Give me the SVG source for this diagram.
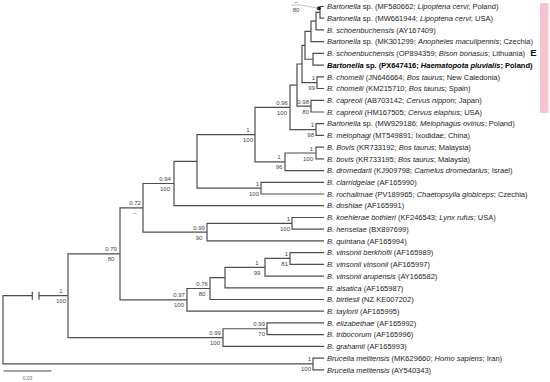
<svg xmlns="http://www.w3.org/2000/svg" width="550" height="382" viewBox="0 0 550 382">
<style>
text{font-family:"Liberation Sans",Arial,sans-serif}
.lf{font-size:7.5px;fill:#222}
.b{font-weight:bold;fill:#000}
.i{font-style:italic}
.sc{font-size:6px;fill:#444;text-anchor:middle}
.se{font-size:6px;fill:#444;text-anchor:end}
.ln{fill:none;stroke:#4d4d4d;stroke-width:1.2}
</style>
<rect x="540" y="3" width="8.5" height="110" fill="#f7c3cf"/>
<text x="533.5" y="55.5" font-size="9.5" font-weight="bold" text-anchor="middle" fill="#111">E</text>
<g id="connectors" class="ln">
<path d="M324 6.5H320V18.2H324"/>
<path d="M320 12.35H316V29.9H324"/>
<path d="M316 21.1H311V41.7H324"/>
<path d="M324 53.4H313V65.1H324"/>
<path d="M311 31.4H305V59.25H313"/>
<path d="M324 76.8H317V88.5H324"/>
<path d="M305 45.3H302V82.65H317"/>
<path d="M324 100.3H311V112H324"/>
<path d="M302 64H297V106.15H311"/>
<path d="M324 123.7H316V135.4H324"/>
<path d="M297 85.1H290V129.55H316"/>
<path d="M324 147.1H316V158.9H324"/>
<path d="M316 153H285V170.6H324"/>
<path d="M290 107.3H255V161.8H285"/>
<path d="M324 182.3H261V194H324"/>
<path d="M255 134.55H197V188.15H261"/>
<path d="M197 161.35H174V205.7H324"/>
<path d="M324 217.5H292V229.2H324"/>
<path d="M292 223.35H207V240.9H324"/>
<path d="M174 183.5H143V232.1H207"/>
<path d="M324 252.6H290V264.3H324"/>
<path d="M290 258.45H265V276.1H324"/>
<path d="M265 267.3H225V287.8H324"/>
<path d="M225 277.55H210V299.5H324"/>
<path d="M210 288.5H187V311.2H324"/>
<path d="M143 207.8H120V299.85H187"/>
<path d="M324 322.9H267V334.6H324"/>
<path d="M267 328.75H223V346.4H324"/>
<path d="M120 253.8H68V337.6H223"/>
<path d="M324 358.1H313V369.8H324"/>
<path d="M32.3 295.7H3V363.95H313M39 295.7H68M32.3 291.7V299.7M39 291.7V299.7"/>
<path d="M3.5 371H51.5" stroke-width="1"/>
</g>
<g id="callout">
<circle cx="318.8" cy="8.3" r="1.9" fill="#111"/>
<path d="M291 5H301L318.8 8.3" fill="none" stroke="#999" stroke-width="0.6"/>
<text class="sc" x="296" y="3.8">–</text>
<text class="sc" x="296" y="11.5">80</text>
</g>
<g id="supports">
<text class="se" x="315" y="80.15">1</text><text class="se" x="315" y="90.15">99</text>
<text class="se" x="309" y="103.65">0.98</text><text class="se" x="309" y="113.65">80</text>
<text class="se" x="314" y="127.05">1</text><text class="se" x="314" y="137.05">98</text>
<text class="sc" x="282" y="104.8">0.96</text><text class="sc" x="282" y="114.8">100</text>
<text class="se" x="313" y="150.5">1</text><text class="se" x="313" y="160.5">100</text>
<text class="sc" x="279" y="159.3">1</text><text class="sc" x="279" y="169.3">96</text>
<text class="sc" x="248" y="132.05">1</text><text class="sc" x="248" y="142.05">100</text>
<text class="se" x="259" y="185.65">1</text><text class="se" x="259" y="195.65">100</text>
<text class="sc" x="165" y="181">0.94</text><text class="sc" x="165" y="191">100</text>
<text class="se" x="290" y="220.85">1</text><text class="se" x="290" y="230.85">100</text>
<text class="sc" x="199" y="229.6">0.99</text><text class="sc" x="199" y="239.6">90</text>
<text class="sc" x="135" y="205.3">0.72</text><text class="sc" x="135" y="215.3">–</text>
<text class="se" x="288" y="255.95">1</text><text class="se" x="288" y="265.95">81</text>
<text class="sc" x="257" y="264.8">1</text><text class="sc" x="257" y="274.8">99</text>
<text class="sc" x="202" y="286">0.76</text><text class="sc" x="202" y="296">80</text>
<text class="sc" x="179" y="297.35">0.97</text><text class="sc" x="179" y="307.35">100</text>
<text class="sc" x="111" y="251.3">0.79</text><text class="sc" x="111" y="261.3">80</text>
<text class="se" x="265" y="326.25">0.99</text><text class="se" x="265" y="336.25">70</text>
<text class="sc" x="215" y="335.1">0.99</text><text class="sc" x="215" y="345.1">100</text>
<text class="sc" x="61" y="293.2">1</text><text class="sc" x="61" y="303.2">100</text>
<text class="se" x="311" y="361.45">1</text><text class="se" x="311" y="371.45">100</text>
<text x="27.5" y="380" font-size="5" fill="#666" text-anchor="middle">0.03</text>
</g>
<g id="leaves" class="lf">
<text id="t0" x="327" y="9.2"><tspan class="i">Bartonella</tspan> sp. (MF580662; <tspan class="i">Lipoptena cervi</tspan>; Poland)</text>
<text id="t1" x="327" y="20.9"><tspan class="i">Bartonella</tspan> sp. (MW661944; <tspan class="i">Lipoptena cervi</tspan>; USA)</text>
<text id="t2" x="327" y="32.6"><tspan class="i">B. schoenbuchensis</tspan> (AY167409)</text>
<text id="t3" x="327" y="44.4"><tspan class="i">Bartonella</tspan> sp. (MK301299; <tspan class="i">Anopheles maculipennis</tspan>; Czechia)</text>
<text id="t4" x="327" y="56.1"><tspan class="i">B. schoenbuchensis</tspan> (OP894359; <tspan class="i">Bison bonasus</tspan>; Lithuania)</text>
<text id="t5" x="327" y="67.8" class="b"><tspan class="i">Bartonella</tspan> sp. (PX647416; <tspan class="i">Haematopota pluvialis</tspan>; Poland)</text>
<text id="t6" x="327" y="79.5"><tspan class="i">B. chomelii</tspan> (JN646664; <tspan class="i">Bos taurus</tspan>; New Caledonia)</text>
<text id="t7" x="327" y="91.2"><tspan class="i">B. chomelii</tspan> (KM215710; <tspan class="i">Bos taurus</tspan>; Spain)</text>
<text id="t8" x="327" y="103"><tspan class="i">B. capreoli</tspan> (AB703142; <tspan class="i">Cervus nippon</tspan>; Japan)</text>
<text id="t9" x="327" y="114.7"><tspan class="i">B. capreoli</tspan> (HM167505; <tspan class="i">Cervus elaphus</tspan>; USA)</text>
<text id="t10" x="327" y="126.4"><tspan class="i">Bartonella</tspan> sp. (MW929186; <tspan class="i">Melophagus ovinus</tspan>; Poland)</text>
<text id="t11" x="327" y="138.1"><tspan class="i">B. melophagi</tspan> (MT549891; Ixodidae; China)</text>
<text id="t12" x="327" y="149.8"><tspan class="i">B. Bovis</tspan> (KR733192; <tspan class="i">Bos taurus</tspan>; Malaysia)</text>
<text id="t13" x="327" y="161.6"><tspan class="i">B. bovis</tspan> (KR733195; <tspan class="i">Bos taurus</tspan>; Malaysia)</text>
<text id="t14" x="327" y="173.3"><tspan class="i">B. dromedarii</tspan> (KJ909798; <tspan class="i">Camelus dromedarius</tspan>; Israel)</text>
<text id="t15" x="327" y="185"><tspan class="i">B. clarridgeiae</tspan> (AF165990)</text>
<text id="t16" x="327" y="196.7"><tspan class="i">B. rochalimae</tspan> (PV189965; <tspan class="i">Chaetopsylla globiceps</tspan>; Czechia)</text>
<text id="t17" x="327" y="208.4"><tspan class="i">B. doshiae</tspan> (AF165991)</text>
<text id="t18" x="327" y="220.2"><tspan class="i">B. koehlerae bothieri</tspan> (KF246543; <tspan class="i">Lynx rufus</tspan>; USA)</text>
<text id="t19" x="327" y="231.9"><tspan class="i">B. henselae</tspan> (BX897699)</text>
<text id="t20" x="327" y="243.6"><tspan class="i">B. quintana</tspan> (AF165994)</text>
<text id="t21" x="327" y="255.3"><tspan class="i">B. vinsonii berkhofii</tspan> (AF165989)</text>
<text id="t22" x="327" y="267"><tspan class="i">B. vinsonii vinsonii</tspan> (AF165997)</text>
<text id="t23" x="327" y="278.8"><tspan class="i">B. vinsonii arupensis</tspan> (AY166582)</text>
<text id="t24" x="327" y="290.5"><tspan class="i">B. alsatica</tspan> (AF165987)</text>
<text id="t25" x="327" y="302.2"><tspan class="i">B. birtlesii</tspan> (NZ KE007202)</text>
<text id="t26" x="327" y="313.9"><tspan class="i">B. taylorii</tspan> (AF165995)</text>
<text id="t27" x="327" y="325.6"><tspan class="i">B. elizabethae</tspan> (AF165992)</text>
<text id="t28" x="327" y="337.3"><tspan class="i">B. tribocorum</tspan> (AF165996)</text>
<text id="t29" x="327" y="349.1"><tspan class="i">B. grahamii</tspan> (AF165993)</text>
<text id="t30" x="327" y="360.8"><tspan class="i">Brucella melitensis</tspan> (MK629660; <tspan class="i">Homo sapiens</tspan>; Iran)</text>
<text id="t31" x="327" y="372.5"><tspan class="i">Brucella melitensis</tspan> (AY540343)</text>
</g>
</svg>
